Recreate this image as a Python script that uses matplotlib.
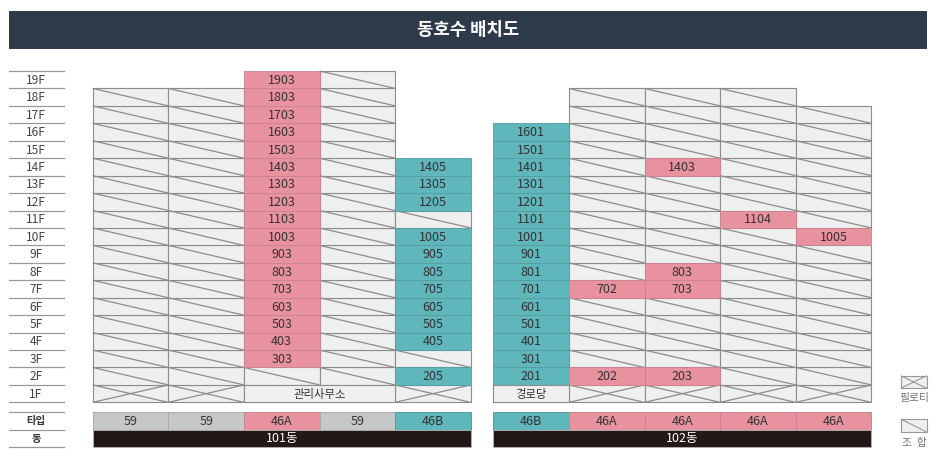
import matplotlib
matplotlib.use("Agg")
import matplotlib.pyplot as plt
from matplotlib.patches import Rectangle

plt.rcParams['font.family'] = ['Noto Sans CJK KR', 'DejaVu Sans']

title = "동호수 배치도"
floors = list(range(19, 0, -1))
row_labels = ["타입", "동"]
b101_name = "101동"
b102_name = "102동"
b101_types = ["59", "59", "46A", "59", "46B"]
b102_types = ["46B", "46A", "46A", "46A", "46A"]
b101_office = "관리사무소"
b102_hall = "경로당"

# top floor of each column, and the floors sold per line (others are 조합)
b101_top = [18, 18, 19, 19, 14]
b102_top = [16, 18, 18, 18, 17]
b101_pink = {3: list(range(3, 20))}
b101_teal = {5: [2, 4, 5, 6, 7, 8, 9, 10, 12, 13, 14]}
b102_pink = {2: [2, 7], 3: [2, 7, 8, 14], 4: [11], 5: [10]}
b102_teal = {1: list(range(2, 17))}
b101_office_lines = [3, 4]
b102_hall_lines = [1]

PINK, TEAL, GREY, TYPEGREY = "#e8929f", "#5fb6bb", "#eeefef", "#c6c7c8"
PINK_E, TEAL_E = "#c98490", "#559ea3"
DARK, NAVY, LINE, EDGE, TXT = "#231815", "#2c3a4a", "#8f8b8a", "#b5b5b5", "#333333"

X101 = 92.7
X102 = 493.3
CW = 75.6
Y0 = 71.0
RH = 17.44
TYPE_Y = 412.0
TYPE_H = 17.5

fig = plt.figure(figsize=(9.36, 4.65), dpi=100)
ax = fig.add_axes([0, 0, 1, 1])
ax.set_xlim(0, 936)
ax.set_ylim(465, 0)
ax.axis("off")


def ly(f):
    return Y0 + (19 - f) * RH


def box(x, y, w, h, fc, ec=LINE, lw=0.8, z=2):
    ax.add_patch(Rectangle((x, y), w, h, fc=fc, ec=ec, lw=lw, zorder=z))


def cross(x, y, w, h, both=False, color=LINE, lw=0.9):
    ax.plot([x, x + w], [y, y + h], color=color, lw=lw, zorder=3, solid_capstyle="butt")
    if both:
        ax.plot([x, x + w], [y + h, y], color=color, lw=lw, zorder=3, solid_capstyle="butt")


def label(x, y, s, size=9, color=TXT, weight="normal", dy=0.6):
    ax.text(x, y + dy, s, ha="center", va="center", fontsize=size, color=color,
            fontweight=weight, zorder=6)


def building(x0, tops, pink, teal, special_lines, special_text, types, name):
    # grey cells first, coloured cells above them
    for c, top in enumerate(tops, start=1):
        x = x0 + (c - 1) * CW
        for f in range(1, top + 1):
            y = ly(f)
            if f == 1:
                box(x, y, CW, RH, GREY)
                if c not in special_lines:
                    cross(x, y, CW, RH, both=True)
            elif f not in pink.get(c, []) and f not in teal.get(c, []):
                box(x, y, CW, RH, GREY)
                cross(x, y, CW, RH)
    for c, top in enumerate(tops, start=1):
        x = x0 + (c - 1) * CW
        for f in range(2, top + 1):
            y = ly(f)
            if f in pink.get(c, []):
                box(x, y, CW, RH, PINK, ec=PINK_E, lw=0.6, z=4)
                label(x + CW / 2, y + RH / 2, f"{f}{c:02d}")
            elif f in teal.get(c, []):
                box(x, y, CW, RH, TEAL, ec=TEAL_E, lw=0.6, z=4)
                label(x + CW / 2, y + RH / 2, f"{f}{c:02d}")
    # merged special cell on the ground floor
    xs = x0 + (special_lines[0] - 1) * CW
    ws = CW * len(special_lines)
    box(xs, ly(1), ws, RH, GREY, z=4)
    label(xs + ws / 2, ly(1) + RH / 2, special_text, size=8.2, weight="medium")
    # type row
    for c, t in enumerate(types):
        col = {"59": TYPEGREY, "46A": PINK, "46B": TEAL}[t]
        ec = {"59": "#a9a9a9", "46A": PINK_E, "46B": TEAL_E}[t]
        box(x0 + c * CW, TYPE_Y, CW, TYPE_H, col, ec=ec, lw=0.7)
        label(x0 + c * CW + CW / 2, TYPE_Y + TYPE_H / 2, t)
    # name bar
    box(x0, TYPE_Y + TYPE_H, CW * 5, TYPE_H, DARK, ec=EDGE, lw=0.6)
    label(x0 + CW * 2.5, TYPE_Y + TYPE_H * 1.5, name, color="white", weight="medium")


# title bar
ax.add_patch(Rectangle((9, 11), 918, 38, fc=NAVY, ec="none"))
label(468, 30, title, size=12.8, color="white", weight="bold", dy=0)

# floor labels
for f in floors:
    y = ly(f)
    ax.plot([9, 63.5], [y, y], color="#999999", lw=0.9, zorder=2)
    label(36, y + RH / 2, f"{f}F", size=8.6, color="#444444")
ax.plot([9, 63.5], [ly(0), ly(0)], color="#999999", lw=0.9)
for i, s in enumerate(row_labels):
    y = TYPE_Y + i * TYPE_H
    ax.plot([9, 63.5], [y, y], color="#999999", lw=0.9)
    label(36, y + TYPE_H / 2, s, size=7.5, color="#333333", weight="bold")
ax.plot([9, 63.5], [TYPE_Y + 2 * TYPE_H] * 2, color="#999999", lw=0.9)

building(X101, b101_top, b101_pink, b101_teal, b101_office_lines, b101_office, b101_types, b101_name)
building(X102, b102_top, b102_pink, b102_teal, b102_hall_lines, b102_hall, b102_types, b102_name)

# legend
box(900.7, 375.7, 26, 12.6, GREY, ec="#999999")
cross(900.7, 375.7, 26, 12.6, both=True, color="#999999", lw=0.8)
label(914, 398, "필로티", size=7.8, color="#777777", dy=0)
box(900.7, 419, 26, 13, GREY, ec="#999999")
cross(900.7, 419, 26, 13, color="#999999", lw=0.8)
label(914, 443, "조  합", size=7.8, color="#777777", dy=0)

fig.savefig("out.png", dpi=100)
